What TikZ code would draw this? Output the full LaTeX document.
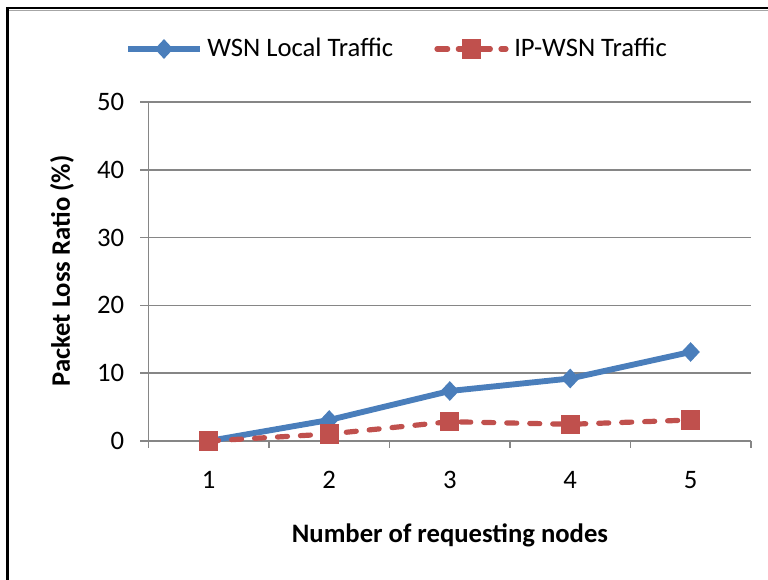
\documentclass[tikz,border=0pt]{standalone}
\usepackage{fontspec}
\setmainfont{Carlito}
\usetikzlibrary{shapes.geometric}
\definecolor{serblue}{HTML}{4A7EBB}
\definecolor{serred}{HTML}{C0504D}
\definecolor{gridgray}{HTML}{868686}
\definecolor{framegray}{HTML}{A6A6A6}
\tikzset{
  gridline/.style={draw=gridgray, line width=1.1pt},
  axisline/.style={draw=gridgray, line width=1.1pt},
  blueline/.style={draw=serblue, line width=4.4pt, line join=round},
  redline/.style={draw=serred, line width=3.9pt, line cap=round, dash pattern=on 7.5pt off 9.75pt},
  bluemark/.style={shape=diamond, fill=serblue, inner sep=0pt, minimum width=14pt, minimum height=15pt},
  redmark/.style={shape=rectangle, fill=serred, inner sep=0pt, minimum size=14.5pt},
  txt/.style={font=\fontsize{20}{24}\selectfont, inner sep=0pt},
  btxt/.style={font=\fontsize{20}{24}\selectfont\bfseries, inner sep=0pt}
}
\begin{document}
\begin{tikzpicture}[x=0.75pt, y=-0.75pt]
\useasboundingbox (0,0) rectangle (768,580);
% frame
\draw[framegray, line width=0.8pt] (9,10.6) -- (768,10.6);
\draw[black, line width=1.8pt] (6,8.3) -- (768,8.3);
\draw[black, line width=2.2pt] (7.4,7) -- (7.4,580);
% gridlines
\foreach \v/\y in {10/373.2, 20/305.4, 30/237.6, 40/169.8, 50/102} {
  \draw[gridline] (148.3,\y) -- (751,\y);
}
% axes
\draw[axisline] (148.3,102) -- (148.3,448);
\draw[axisline] (140,441) -- (751,441);
\foreach \y in {102,169.8,237.6,305.4,373.2} {
  \draw[axisline] (140,\y) -- (148.3,\y);
}
\foreach \x in {269,389.5,510,630.5,751} {
  \draw[axisline] (\x,441) -- (\x,448);
}
% y tick labels
\foreach \v/\y in {0/441, 10/373.2, 20/305.4, 30/237.6, 40/169.8, 50/102} {
  \node[txt, anchor=east] (yl\v) at (124.5,\y) {\v};
}
% x tick labels
\foreach \i/\x in {1/208.6, 2/329.2, 3/449.8, 4/570.2, 5/690.6} {
  \node[txt] (xl\i) at (\x,480) {\i};
}
% axis titles
\node[btxt, anchor=base] (xtitle) at (450,543) {Number of requesting nodes};
\node[btxt, rotate=90] (ytitle) at (62,271) {Packet Loss Ratio (\%)};
% data
\coordinate (b1) at (208.6,441);
\coordinate (b2) at (329.2,420);
\coordinate (b3) at (449.8,391);
\coordinate (b4) at (570.2,378.5);
\coordinate (b5) at (690.6,352);
\coordinate (r1) at (208.6,441);
\coordinate (r2) at (329.2,434);
\coordinate (r3) at (449.8,421.7);
\coordinate (r4) at (570.2,424.3);
\coordinate (r5) at (690.6,420);
\draw[blueline] (b1) -- (b2) -- (b3) -- (b4) -- (b5);
\draw[redline] (r1) -- (r2) -- (r3) -- (r4) -- (r5);
\foreach \i in {1,...,5} {
  \node[bluemark] (bm\i) at (b\i) {};
}
\foreach \i in {1,...,5} {
  \node[redmark] (rm\i) at (r\i) {};
}
% legend
\coordinate (lb0) at (128,49);
\coordinate (lb1) at (200,49);
\draw[blueline] (lb0) -- (lb1);
\node[bluemark] (lbm) at (164,49) {};
\node[txt, anchor=base west] (lbt) at (207,56.7) {WSN Local Traffic};
\coordinate (lr0) at (437,49);
\coordinate (lr1) at (506,49);
\draw[redline, dash pattern=on 8pt off 8pt] (lr0) -- (lr1);
\node[redmark] (lrm) at (471.5,49) {};
\node[txt, anchor=base west] (lrt) at (514,56.7) {IP-WSN Traffic};
\end{tikzpicture}
\end{document}
